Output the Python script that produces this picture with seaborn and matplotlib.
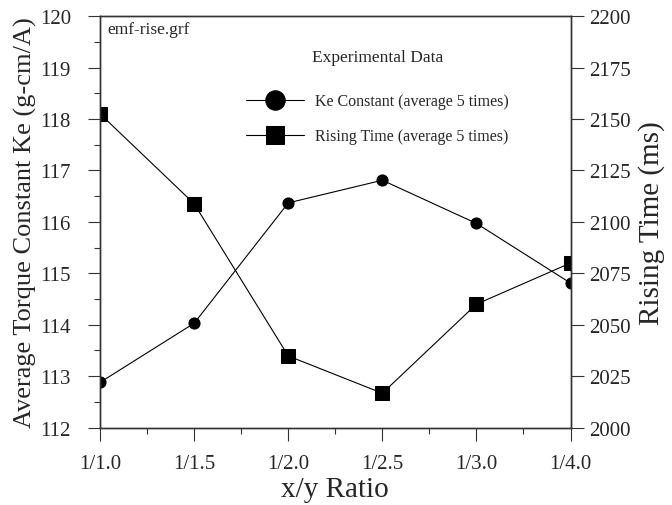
import seaborn as sns
from matplotlib import pyplot as plt
from matplotlib.ticker import MultipleLocator

ratios = ["1/1.0", "1/1.5", "1/2.0", "1/2.5", "1/3.0", "1/4.0"]
ke_constant = [112.88, 114.03, 116.37, 116.81, 115.97, 114.81]
rising_time = [2152.5, 2108.8, 2034.8, 2016.7, 2060.0, 2080.0]

sns.set_style("ticks")
plt.rcParams["font.family"] = ["Liberation Serif", "DejaVu Serif"]

fig = plt.figure(figsize=(6.72, 5.06), dpi=100)
ax = fig.add_axes([0.149, 0.153, 0.700, 0.813])
ax2 = ax.twinx()

sns.lineplot(x=ratios, y=ke_constant, ax=ax, sort=False, color="black", lw=0.8,
             marker="o", markersize=8, markeredgecolor="black",
             label="Ke Constant (average 5 times)", legend=False)
sns.lineplot(x=ratios, y=rising_time, ax=ax2, sort=False, color="black", lw=0.8,
             marker="s", markersize=10, markeredgecolor="black",
             label="Rising Time (average 5 times)", legend=False)

ax.set_xlim(0, 5)
ax.set_ylim(112, 120)
ax2.set_ylim(2000, 2200)
ax.yaxis.set_major_locator(MultipleLocator(1))
ax.yaxis.set_minor_locator(MultipleLocator(0.5))
ax2.yaxis.set_major_locator(MultipleLocator(25))
ax.xaxis.set_minor_locator(MultipleLocator(0.5))

for a in (ax, ax2):
    for s in a.spines.values():
        s.set_color("#333333")
        s.set_linewidth(1.0)
    a.tick_params(which="major", direction="out", length=9, width=0.8,
                  labelsize=15, color="#333333")
    a.tick_params(which="minor", direction="out", length=4, width=0.8,
                  color="#333333")
ax.tick_params(axis="x", pad=10)
ax.tick_params(axis="y", pad=12)
ax2.tick_params(axis="y", pad=4.5)

ax.set_xlabel("x/y Ratio", fontsize=21, labelpad=2)
ax.set_ylabel("Average Torque Constant Ke (g-cm/A)", fontsize=19, labelpad=2)
ax2.set_ylabel("Rising Time (ms)", fontsize=21, labelpad=5)

ax.text(0.015, 0.988, "emf-rise.grf", transform=ax.transAxes, fontsize=12.5,
        va="top", ha="left")

h1, l1 = ax.get_legend_handles_labels()
h2, l2 = ax2.get_legend_handles_labels()
leg = ax2.legend(h1 + h2, l1 + l2, title="Experimental Data", frameon=False,
                 loc="upper left", bbox_to_anchor=(0.297, 0.935), fontsize=11.5,
                 title_fontsize=12.5, handlelength=3.6, handletextpad=0.7,
                 labelspacing=1.2, borderaxespad=0)
leg.legend_handles[0].set_markersize(14)
leg.legend_handles[1].set_markersize(13)
leg._legend_box.sep = 20

fig.savefig("out.png", dpi=100)
